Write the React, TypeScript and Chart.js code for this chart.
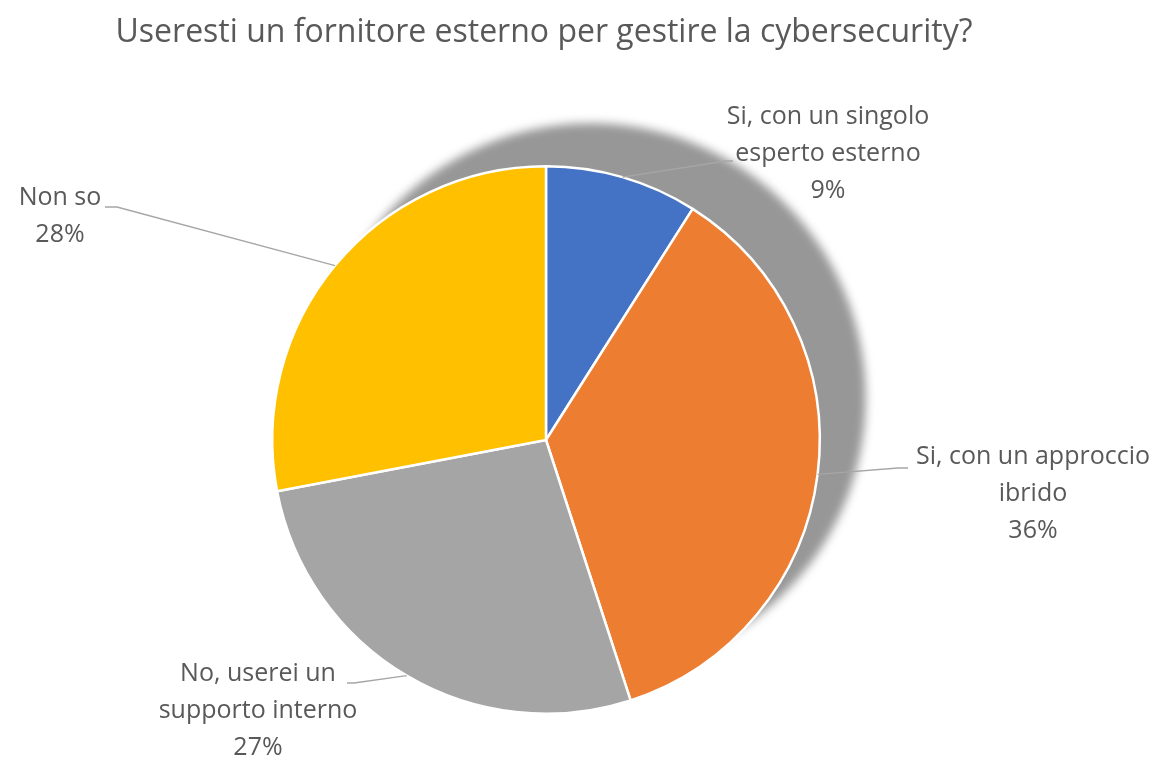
import React, { useEffect, useRef } from "react";
import { Chart, registerables } from "chart.js";

Chart.register(...registerables);

const TITLE = "Useresti un fornitore esterno per gestire la cybersecurity?";
const categories = [
  "Si, con un singolo esperto esterno",
  "Si, con un approccio ibrido",
  "No, userei un supporto interno",
  "Non so",
];
const labelLines = [
  ["Si, con un singolo", "esperto esterno"],
  ["Si, con un approccio", "ibrido"],
  ["No, userei un", "supporto interno"],
  ["Non so"],
];
const values = [9, 36, 27, 28];
const colors = ["#4472C4", "#ED7D31", "#A5A5A5", "#FFC000"];

// Label layout (text anchor: center x, first line y) and leader-line endpoints
const labelAnchors = [
  [828, 117],
  [1033, 457],
  [258, 674],
  [60, 198],
];
const leaderEnds = [
  [[726, 161], [733, 161]],
  [[898, 468], [908, 468]],
  [[354, 683], [347, 683]],
  [[117, 207], [105, 207]],
];
const TITLE_POS = [544, 33];

const FONT = "'Open Sans', 'Liberation Sans', sans-serif";
const TEXT_COLOR = "#595959";

const shadowPlugin = {
  id: "pieShadow",
  beforeDatasetsDraw(chart: any) {
    const meta = chart.getDatasetMeta(0);
    const arc = meta.data[0];
    if (!arc) return;
    const { x, y, outerRadius } = arc.getProps(["x", "y", "outerRadius"], true);
    const ctx = chart.ctx;
    ctx.save();
    ctx.filter = "blur(5px)";
    ctx.fillStyle = "#979797";
    ctx.beginPath();
    ctx.arc(x + 45, y - 42, outerRadius + 1, 0, Math.PI * 2);
    ctx.fill();
    ctx.restore();
  },
};

const labelPlugin = {
  id: "outsideLabels",
  afterDatasetsDraw(chart: any) {
    const meta = chart.getDatasetMeta(0);
    const ctx = chart.ctx;
    ctx.save();
    ctx.fillStyle = TEXT_COLOR;
    ctx.textAlign = "center";
    ctx.textBaseline = "middle";
    ctx.font = `32px ${FONT}`;
    ctx.fillText(TITLE, TITLE_POS[0], TITLE_POS[1]);
    meta.data.forEach((arc: any, i: number) => {
      const { x, y, startAngle, endAngle, outerRadius } = arc.getProps(
        ["x", "y", "startAngle", "endAngle", "outerRadius"],
        true
      );
      const mid = (startAngle + endAngle) / 2;
      const px = x + Math.cos(mid) * outerRadius;
      const py = y + Math.sin(mid) * outerRadius;
      ctx.strokeStyle = "#A6A6A6";
      ctx.lineWidth = 1.3;
      ctx.beginPath();
      ctx.moveTo(px, py);
      leaderEnds[i].forEach(([lx, ly]) => ctx.lineTo(lx, ly));
      ctx.stroke();

      const lines = [...labelLines[i], `${values[i]}%`];
      const [cx, cy] = labelAnchors[i];
      ctx.fillStyle = TEXT_COLOR;
      ctx.font = `25px ${FONT}`;
      lines.forEach((t, k) => ctx.fillText(t, cx, cy + k * 37));
    });
    ctx.restore();
  },
};

export default function App() {
  const ref = useRef<HTMLCanvasElement | null>(null);
  useEffect(() => {
    if (!ref.current) return;
    const chart = new Chart(ref.current, {
      type: "pie",
      data: {
        labels: categories,
        datasets: [
          {
            data: values,
            backgroundColor: colors,
            borderColor: "#FFFFFF",
            borderWidth: 2.5,
          },
        ],
      },
      options: {
        responsive: false,
        animation: false,
        layout: { padding: { top: 165, left: 271, right: 336, bottom: 46 } },
        plugins: {
          legend: { display: false },
          tooltip: { enabled: false },
          title: { display: false },
        },
      },
      plugins: [shadowPlugin, labelPlugin],
    });
    return () => chart.destroy();
  }, []);
  return (
    <div style={{ position: "absolute", left: 0, top: 0, width: 1157, height: 761, background: "#fff" }}>
      <canvas ref={ref} width={1157} height={761} />
    </div>
  );
}
